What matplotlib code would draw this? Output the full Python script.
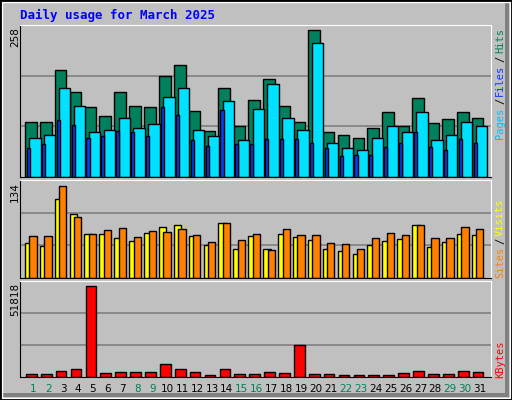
import numpy as np
import matplotlib.pyplot as plt
from matplotlib.patches import Rectangle

days = np.arange(1, 32)
hits = [97, 97, 188, 148, 123, 106, 148, 125, 123, 177, 196, 116, 81, 156, 90, 135, 172, 125, 97, 258,
        79, 74, 69, 85, 114, 90, 139, 95, 102, 114, 104]
files = [69, 74, 156, 125, 79, 83, 104, 86, 93, 140, 156, 83, 71, 133, 64, 119, 162, 104, 83, 234,
         60, 50, 48, 69, 90, 78, 114, 64, 74, 97, 90]
pages = [51, 58, 100, 91, 69, 71, 81, 79, 71, 122, 108, 65, 55, 118, 58, 58, 67, 67, 67, 60,
         50, 36, 39, 39, 53, 60, 78, 53, 48, 67, 60]
visits = [51, 47, 115, 93, 64, 64, 58, 54, 66, 74, 77, 61, 48, 80, 42, 61, 42, 64, 60, 55,
          42, 39, 35, 48, 54, 57, 77, 45, 52, 64, 63]
sites = [61, 61, 134, 89, 64, 70, 73, 60, 68, 67, 71, 62, 52, 80, 55, 64, 41, 71, 62, 62,
         51, 50, 42, 58, 66, 62, 77, 58, 58, 74, 72]
kbytes = [1700, 1700, 3400, 4600, 51818, 2300, 2800, 2800, 2800, 7400, 4600, 2800, 1100, 4600, 1700, 1700,
          2800, 2300, 18400, 1700, 1700, 1100, 1100, 1100, 1100, 2300, 3400, 1700, 1700, 3400, 2800]
weekend = {1, 2, 8, 9, 15, 16, 22, 23, 29, 30}

W, H = 512, 400
fig = plt.figure(figsize=(W / 100, H / 100), dpi=100)
fig.patch.set_facecolor('#C0C0C0')
# bevel / border
fig.patches.append(Rectangle((W - 7, 3), 4, H - 6, transform=None, facecolor='#808080', edgecolor='none'))
fig.patches.append(Rectangle((3, 3), W - 6, 4, transform=None, facecolor='#808080', edgecolor='none'))
fig.patches.append(Rectangle((2 / W, 2 / H), 1 - 4 / W, 1 - 4 / H, transform=fig.transFigure,
                             fill=False, edgecolor='white', linewidth=1))
fig.patches.append(Rectangle((0, 0), 1, 1, transform=fig.transFigure, fill=False,
                             edgecolor='black', linewidth=2))

def make_ax(top, bottom, ymax):
    ax = fig.add_axes([20 / W, 1 - bottom / H, 471 / W, (bottom - top) / H])
    ax.set_facecolor('#C0C0C0')
    ax.set_xlim(0.11, 31.74)
    ax.set_ylim(0, ymax)
    ax.set_xticks([])
    ax.set_yticks([])
    for s in ax.spines.values():
        s.set_color('black')
    ax.spines['top'].set_color('white')
    ax.spines['right'].set_color('white')
    for f in (1 / 3, 2 / 3):
        ax.axhline(f * ymax, color='#808080', lw=1.2, zorder=0)
    return ax

ek = dict(edgecolor='black', linewidth=1, align='edge')

ax1 = make_ax(25, 177, 266)
ax1.bar(days - 0.56, hits, width=0.79, color='#00805C', **ek)
ax1.bar(days - 0.27, files, width=0.76, color='#00E0FF', **ek)
ax1.bar(days - 0.43, pages, width=0.21, color='#0040FF', **ek)

ax2 = make_ax(180, 278, 142.7)
ax2.bar(days - 0.56, visits, width=0.5, color='#FFFF00', **ek)
ax2.bar(days - 0.26, sites, width=0.49, color='#FF8000', **ek)

ax3 = make_ax(281, 377, 54700)
ax3.bar(days - 0.49, kbytes, width=0.72, color='#FF0000', **ek)

mono = 'DejaVu Sans Mono'
fig.text(20 / W, 1 - 15 / H, 'Daily usage for March 2025', color='#0000FF', family=mono,
         weight='bold', fontsize=9, va='center')
for y, lab in ((27, '258'), (182, '134'), (283, '51818')):
    fig.text(15 / W, 1 - y / H, lab, rotation=90, ha='center', va='top', fontsize=7.5, family='DejaVu Sans')

def side(parts, ytop, ybot):
    # parts given top-down; spread them over [ytop, ybot]
    lens = [len(t) for t, _ in parts]
    step = (ybot - ytop) / (sum(lens) + 0.6 * (len(parts) - 1))
    y = ytop
    for (txt, col), n in zip(parts, lens):
        fig.text(500 / W, 1 - y / H, txt, rotation=90, color=col, family=mono, fontsize=7.5,
                 ha='center', va='top')
        y += (n + 0.6) * step

side([('Hits', '#00805C'), ('/', '#000000'), ('Files', '#0040FF'), ('/', '#000000'),
      ('Pages', '#00C0FF')], 28, 137)
side([('Visits', '#FFFF00'), ('/', '#000000'), ('Sites', '#FF8000')], 198, 277)
side([('KBytes', '#FF0000')], 340, 377)

for d in days:
    x = 20 + (d - 0.11) * 471 / 31.63
    fig.text(x / W, 1 - 389 / H, str(d), ha='center', va='center', fontsize=7.5,
             color='#00805C' if d in weekend else 'black')

fig.savefig('out.png', dpi=100, facecolor=fig.get_facecolor())
